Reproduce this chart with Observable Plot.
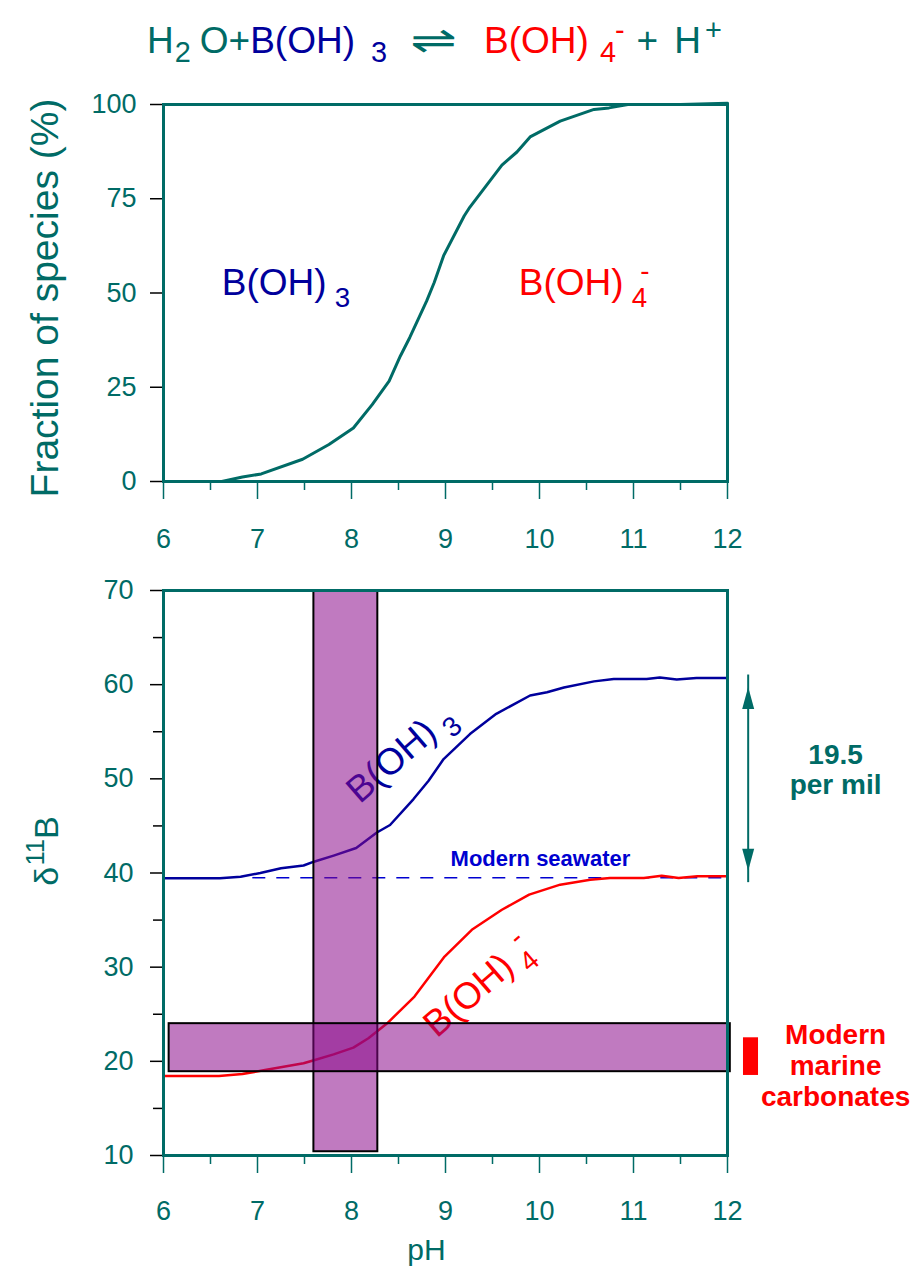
<!DOCTYPE html>
<html>
<head>
<meta charset="utf-8">
<script src="https://cdn.jsdelivr.net/npm/d3@7"></script>
<script src="https://cdn.jsdelivr.net/npm/@observablehq/plot@0.6"></script>
<style>
  body { margin: 0; background: #fff; }
  #page { position: relative; width: 920px; height: 1275px; overflow: hidden;
          font-family: "Liberation Sans", Arial, sans-serif; }
  #title { position: absolute; left: 147px; top: 22px; font-size: 37px; line-height: 1; white-space: nowrap; }
  #title span { display: inline-block; }
  #title .t { color: #006b66; }
  #title .b { color: #00009c; }
  #title .r { color: #ff0000; }
  #title .sub { font-size: 0.78em; position: relative; top: 0.3em; }
  #title .sup { font-size: 0.78em; position: relative; top: -0.45em; }
  #title .eq { font-family: "DejaVu Sans", sans-serif; transform: scaleX(1.5); }
</style>
</head>
<body>
<div id="page">
  <div id="title"><span class="t">H</span><span class="t sub" style="margin-left:1px;margin-right:9px">2</span><span class="t">O+</span><span class="b">B(OH)</span><span class="b sub" style="margin-left:16px">3</span><span class="t eq" style="margin-left:31px;margin-right:35px">⇌</span><span class="r">B(OH)</span><span class="r sub" style="margin-left:11px">4</span><span class="r sup" style="margin-left:-1px">-</span><span class="t" style="margin-left:12px">+</span><span class="t" style="margin-left:16px">H</span><span class="t sup" style="margin-left:4px">+</span></div>
  <div id="top" style="position:absolute;left:0;top:80px"></div>
  <div id="bottom" style="position:absolute;left:0;top:560px"></div>
</div>
<script>
// Colours
const teal = "#006b66";
const navy = "#00009c";
const seaBlue = "#0000d0";
const red = "#ff0000";
const bandColor = "#8a098a";

// Axis ticks
const phMajor = [6, 7, 8, 9, 10, 11, 12];
const phMinor = [6.5, 7.5, 8.5, 9.5, 10.5, 11.5];
const fracTicks = [0, 25, 50, 75, 100];
const deltaMajor = [10, 20, 30, 40, 50, 60, 70];
const deltaMinor = [15, 25, 35, 45, 55, 65];

// Top panel: fraction of boron present as B(OH)4- (%)
const fracPH =      [6.0, 6.3, 6.62, 6.84, 7.04, 7.48, 7.76, 8.02, 8.22, 8.40, 8.52, 8.62, 8.80, 8.88, 8.98, 9.20, 9.26, 9.60, 9.76, 9.90, 10.22, 10.58, 10.74, 10.94, 11.5, 12.0];
const fracBorate =  [0,   0,   0,    1.2,  2.0,  5.9,  9.8,  14.2, 20.4, 26.6, 33.3, 38.2, 47.9, 52.8, 59.9, 70.5, 72.8, 83.9, 87.4, 91.4, 95.6,  98.7,  99.1,  100,   100,  100.3];

// Bottom panel: δ11B of boric acid, B(OH)3
const acidPH =    [6.0, 6.6, 6.82, 7.03, 7.25, 7.49, 7.6, 7.81, 8.05, 8.27, 8.41, 8.66, 8.82, 8.98, 9.26, 9.54, 9.90, 10.08, 10.26, 10.58, 10.79, 11.14, 11.28, 11.46, 11.67, 12.0];
const acidDelta = [39.45, 39.45, 39.6, 40.0, 40.5, 40.8, 41.2, 41.85, 42.65, 44.3, 45.1, 47.85, 49.8, 52.1, 54.75, 56.9, 58.85, 59.2, 59.7, 60.35, 60.6, 60.6, 60.75, 60.55, 60.7, 60.7];

// Bottom panel: δ11B of borate ion, B(OH)4-
const boratePH =    [6.0, 6.59, 6.84, 7.08, 7.49, 7.61, 7.81, 8.02, 8.18, 8.38, 8.67, 8.99, 9.28, 9.60, 9.89, 10.22, 10.54, 10.75, 11.11, 11.3, 11.48, 11.68, 12.0];
const borateDelta = [18.44, 18.44, 18.65, 19.08, 19.79, 20.14, 20.74, 21.45, 22.45, 24.04, 26.88, 31.13, 33.97, 36.1, 37.7, 38.76, 39.29, 39.47, 39.47, 39.72, 39.47, 39.65, 39.65];

// Modern seawater δ11B
const seawaterDelta = [39.5];
const seawaterPHFrom = [6.95];
const seawaterPHTo = [12];

// Shaded ranges: modern ocean pH, and δ11B of modern marine carbonates
const bandPHLow = [7.6, 6.06];
const bandPHHigh = [8.28, 12.03];
const bandDeltaLow = [10.4, 18.9];
const bandDeltaHigh = [70, 24.0];

// Carbonate range marker beside the panel
const carbonatePH = [12.17, 12.33];
const carbonateDelta = [18.5, 22.5];

// Isotopic offset between the two species (per mil)
const fractionation = 19.5;
const fractionationMid = 50;
const fractionationPH = 12.22;

const font = "Liberation Sans, Arial, sans-serif";

// Filled, elongated arrowhead; tip at the origin, pointing up
const arrowHead = {
  draw(context) {
    context.moveTo(0, 0);
    context.lineTo(6, 22);
    context.lineTo(-6, 22);
    context.closePath();
  }
};

// Turns "B(OH)_{4}^{-}" style strings into text with sub/superscripts
function richText(svg) {
  svg.querySelectorAll("text").forEach(el => {
    const src = el.textContent;
    if (!/[_^]\{/.test(src)) return;
    const size = parseFloat(getComputedStyle(el).fontSize);
    while (el.firstChild) el.removeChild(el.firstChild);
    let shift = 0, prev = null, prevKind = "base";
    for (const tok of src.split(/([_^]\{[^}]*\})/)) {
      if (!tok) continue;
      const m = /^([_^])\{(.*)\}$/.exec(tok);
      const kind = m ? (m[1] === "_" ? "sub" : "sup") : "base";
      const target = kind === "sub" ? 0.3 * size : kind === "sup" ? -0.42 * size : 0;
      let dx = 0;
      if (kind === "sub" && prevKind === "base") dx = 0.22 * size;
      if (kind === "sup" && prevKind === "base") dx = 0.04 * size;
      if (kind === "sup" && prevKind === "sub") dx = -0.45 * prev.getComputedTextLength();
      const ts = document.createElementNS("http://www.w3.org/2000/svg", "tspan");
      ts.setAttribute("dy", target - shift);
      if (dx) ts.setAttribute("dx", dx);
      if (kind !== "base") ts.setAttribute("font-size", 0.75 * size);
      ts.textContent = m ? m[2] : tok;
      el.appendChild(ts);
      shift = target; prev = ts; prevKind = kind;
    }
  });
}

// ---------- Top panel: speciation ----------
const topPlot = Plot.plot({
  width: 920,
  height: 480,
  marginLeft: 163,
  marginRight: 193,
  marginTop: 24,
  marginBottom: 79,
  x: {domain: [6, 12], axis: null},
  y: {domain: [0, 100], axis: null},
  style: {fontFamily: font, background: "transparent", overflow: "visible"},
  marks: [
    Plot.axisX(phMajor, {tickSize: 18, stroke: teal, strokeWidth: 1.5, fill: "none", label: null}),
    Plot.axisX(phMinor, {tickSize: 9, stroke: teal, strokeWidth: 1.5, fill: "none", label: null}),
    Plot.axisX(phMajor, {tickSize: 0, tickPadding: 47, fill: teal, fontSize: 27, label: null, tickFormat: d => String(d)}),
    Plot.axisY(fracTicks, {tickSize: 13, stroke: "black", strokeWidth: 1.5, fill: "none", label: null}),
    Plot.axisY(fracTicks, {tickSize: 0, tickPadding: 27, fill: teal, fontSize: 27, label: null, tickFormat: d => String(d)}),
    Plot.line(fracBorate, {x: fracPH, y: fracBorate, stroke: teal, strokeWidth: 3}),
    Plot.frame({stroke: teal, strokeWidth: 3}),
    Plot.text(["B(OH)_{3}"], {x: 6.62, y: 52.5, fill: navy, fontSize: 37, textAnchor: "start"}),
    Plot.text(["B(OH)_{4}^{-}"], {x: 9.78, y: 52.5, fill: red, fontSize: 37, textAnchor: "start"}),
    Plot.text(["Fraction of species (%)"], {frameAnchor: "left", textAnchor: "middle", lineAnchor: "middle", dx: -118, dy: 5, rotate: -90, fill: teal, fontSize: 39})
  ]
});

// ---------- Bottom panel: boron isotopes ----------
const bottomPlot = Plot.plot({
  width: 920,
  height: 715,
  marginLeft: 163,
  marginRight: 193,
  marginTop: 30,
  marginBottom: 120,
  x: {domain: [6, 12], axis: null},
  y: {domain: [10, 70], axis: null},
  style: {fontFamily: font, background: "transparent", overflow: "visible"},
  marks: [
    Plot.axisX(phMajor, {tickSize: 18, stroke: teal, strokeWidth: 1.5, fill: "none", label: null}),
    Plot.axisX(phMinor, {tickSize: 9, stroke: teal, strokeWidth: 1.5, fill: "none", label: null}),
    Plot.axisX(phMajor, {tickSize: 0, tickPadding: 45, fill: teal, fontSize: 27, label: null, tickFormat: d => String(d)}),
    Plot.axisY(deltaMajor, {tickSize: 13, stroke: "black", strokeWidth: 1.5, fill: "none", label: null}),
    Plot.axisY(deltaMinor, {tickSize: 10, stroke: "black", strokeWidth: 1.5, fill: "none", label: null}),
    Plot.axisY(deltaMajor, {tickSize: 0, tickPadding: 30, fill: teal, fontSize: 27, label: null, tickFormat: d => String(d)}),

    // modern seawater reference level
    Plot.ruleY(seawaterDelta, {y: d => d, x1: seawaterPHFrom, x2: seawaterPHTo, stroke: seaBlue, strokeWidth: 1.5, strokeDasharray: "13,11"}),
    Plot.text(["Modern seawater"], {x: 10.01, y: 41.5, fill: seaBlue, fontSize: 22, fontWeight: "bold"}),

    // species curves
    Plot.line(acidDelta, {x: acidPH, y: acidDelta, stroke: navy, strokeWidth: 2.5}),
    Plot.line(borateDelta, {x: boratePH, y: borateDelta, stroke: red, strokeWidth: 2.5}),
    Plot.text(["B(OH)_{3}"], {x: 8.52, y: 52.7, rotate: -41, fill: navy, fontSize: 37}),
    Plot.text(["B(OH)_{4}^{-}"], {x: 9.35, y: 27.9, rotate: -41, fill: red, fontSize: 37}),

    // shaded ranges
    Plot.rect(bandPHLow, {x1: bandPHLow, x2: bandPHHigh, y1: bandDeltaLow, y2: bandDeltaHigh, fill: bandColor, fillOpacity: 0.54, stroke: "black", strokeWidth: 2}),

    Plot.frame({stroke: teal, strokeWidth: 3}),

    // fractionation arrow
    Plot.ruleX([fractionationPH], {x: d => d, y1: [fractionationMid - fractionation / 2], y2: [fractionationMid + fractionation / 2], stroke: teal, strokeWidth: 2, insetTop: 12, insetBottom: 12}),
    Plot.dot([0, 180], {x: [fractionationPH, fractionationPH], y: [fractionationMid + fractionation / 2, fractionationMid - fractionation / 2], rotate: d => d, symbol: arrowHead, fill: teal, stroke: "none"}),
    Plot.text([`${fractionation}\nper mil`], {x: 13.15, y: 51.0, fill: teal, fontSize: 28, fontWeight: "bold", lineHeight: 1.05}),

    // modern marine carbonates marker
    Plot.rect([0], {x1: [carbonatePH[0]], x2: [carbonatePH[1]], y1: [carbonateDelta[0]], y2: [carbonateDelta[1]], fill: red}),
    Plot.text(["Modern\nmarine\ncarbonates"], {x: 13.15, y: 19.6, fill: red, fontSize: 28, fontWeight: "bold", lineHeight: 1.12}),

    // axis titles
    Plot.text(["pH"], {frameAnchor: "bottom", lineAnchor: "middle", dx: -19, dy: 95, fill: teal, fontSize: 30}),
    Plot.text(["δ^{11}B"], {frameAnchor: "left", textAnchor: "middle", lineAnchor: "middle", dx: -116, dy: -22, rotate: -90, fill: teal, fontSize: 34})
  ]
});

document.getElementById("top").appendChild(topPlot);
document.getElementById("bottom").appendChild(bottomPlot);
richText(topPlot);
richText(bottomPlot);
</script>
</body>
</html>
